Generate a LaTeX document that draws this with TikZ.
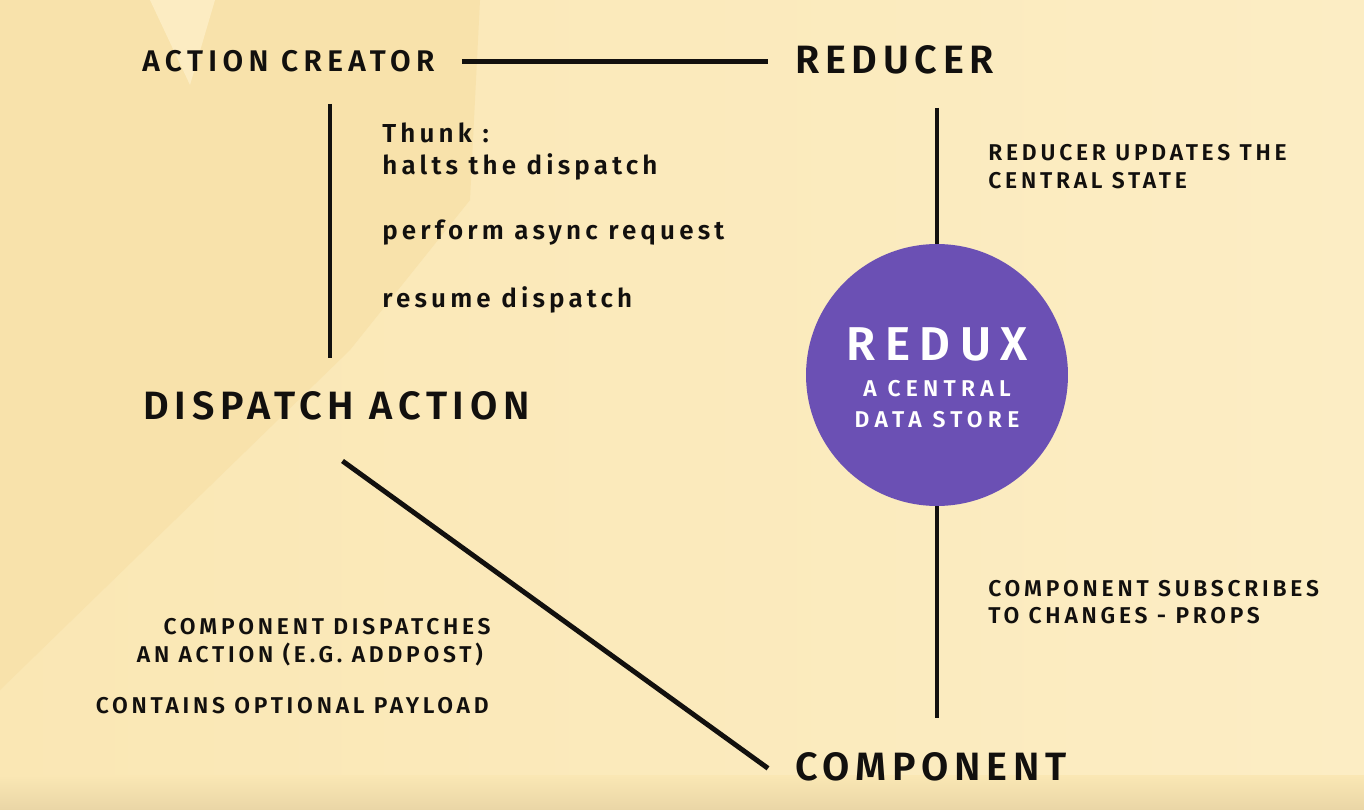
\documentclass[tikz,border=0pt]{standalone}
\usepackage{fontspec}
\setmainfont{Fira Sans}
\newfontfamily\capsfont{Fira Sans}[BoldFont={Fira Sans SemiBold}]
\usetikzlibrary{positioning}
\definecolor{mybg}{RGB}{250,231,180}
\definecolor{mybgright}{RGB}{252,237,196}
\definecolor{mybgdark}{RGB}{248,226,171}
\definecolor{mybglight}{RGB}{252,236,194}
\definecolor{mybottom}{RGB}{234,214,166}
\definecolor{mypurple}{RGB}{107,80,180}
\definecolor{myink}{RGB}{18,16,14}

\begin{document}
\begin{tikzpicture}[x=0.02cm,y=-0.02cm,
  link/.style={line width=2.8pt,draw=myink},
  topnode/.style={inner sep=0pt,text=myink,font=\capsfont\bfseries\fontsize{17}{20}\selectfont\addfontfeatures{LetterSpace=18}},
  bignode/.style={inner sep=0pt,text=myink,font=\capsfont\bfseries\fontsize{22.5}{27}\selectfont\addfontfeatures{LetterSpace=14.5}},
  notenode/.style={inner sep=0pt,text=myink,font=\capsfont\bfseries\fontsize{13}{16}\selectfont\addfontfeatures{LetterSpace=16.5}},
  thunknode/.style={inner sep=0pt,text=myink,font=\capsfont\bfseries\fontsize{14.8}{18}\selectfont\addfontfeatures{LetterSpace=16}},
  hub/.style={circle,fill=mypurple,minimum size=5.24cm,inner sep=0pt},
  hubname/.style={inner sep=0pt,text=white,font=\capsfont\bfseries\fontsize{27}{32}\selectfont\addfontfeatures{LetterSpace=20}},
  hubtext/.style={inner sep=0pt,text=white,font=\capsfont\bfseries\fontsize{13}{16}\selectfont\addfontfeatures{LetterSpace=23}}]

  % background
  \shade[left color=mybg,right color=mybgright] (0,0) rectangle (1364,810);
  \fill[mybgdark] (0,0) -- (480,0) -- (470,200) -- (350,350) -- (0,690) -- cycle;
  \fill[mybglight] (150,0) -- (215,0) -- (190,85) -- cycle;
  \shade[top color=mybg,bottom color=mybottom] (0,775) rectangle (1364,810);
  \useasboundingbox (0,0) rectangle (1364,810);

  \node[topnode,anchor=base west] (act) at (142,72) {ACTION CREATOR};
  \node[bignode,anchor=base west] (red) at (795,74) {REDUCER};
  \node[bignode,anchor=base west] (disp) at (143,419) {DISPATCH ACTION};
  \node[bignode,anchor=base west] (comp) at (795,780) {COMPONENT};

  \node[hub] (redux) at (937,375) {};
  \node[hubname,anchor=base] (reduxname) at (937,360) {REDUX};
  \node[hubtext,anchor=base] (reduxa) at (937,397) {A CENTRAL};
  \node[hubtext,anchor=base] (reduxb) at (937,427) {DATA STORE};

  % thunk notes
  \node[thunknode,anchor=base west] (thunk) at (382,143) {Thunk :};
  \node[thunknode,anchor=base west] (halt) at (382,175) {halts the dispatch};
  \node[thunknode,anchor=base west] (async) at (382,240) {perform async request};
  \node[thunknode,anchor=base west] (resume) at (382,308) {resume dispatch};

  % notes right side
  \node[notenode,anchor=base west] (upd1) at (988,161) {REDUCER UPDATES THE};
  \node[notenode,anchor=base west] (upd2) at (988,189) {CENTRAL STATE};
  \node[notenode,anchor=base west] (sub1) at (988,596) {COMPONENT SUBSCRIBES};
  \node[notenode,anchor=base west] (sub2) at (988,623) {TO CHANGES - PROPS};

  % notes left side
  \node[notenode,anchor=base east] (cd1) at (491,634) {COMPONENT DISPATCHES};
  \node[notenode,anchor=base east] (cd2) at (483,662) {AN ACTION (E.G. ADDPOST)};
  \node[notenode,anchor=base east] (pay) at (489,713) {CONTAINS OPTIONAL PAYLOAD};

  \coordinate (lcol) at (330,0);

  \draw[link,shorten <=0.54cm,shorten >=0.54cm] (act.east) -- (act.east -| red.west);
  \draw[link,shorten <=0.62cm,shorten >=0.66cm] (act.south -| lcol) -- (disp.north -| lcol);
  \draw[link,shorten <=0.66cm] (red.south -| redux.north) -- (redux.north);
  \draw[link,shorten >=0.68cm] (redux.south) -- (comp.north -| redux.south);
  \draw[link] ([shift={(6,41)}]disp.south) -- ([shift={(-27,2)}]comp.west);

\end{tikzpicture}
\end{document}
